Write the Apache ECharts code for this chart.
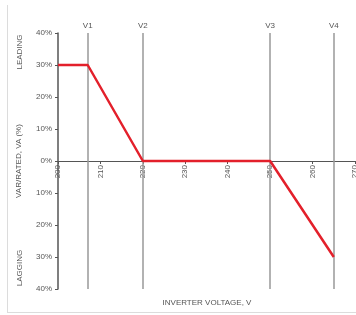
<!DOCTYPE html>
<html>
<head>
<meta charset="utf-8">
<script src="https://cdn.jsdelivr.net/npm/echarts@6/dist/echarts.min.js"></script>
<style>html,body{margin:0;padding:0;background:#fff}#c{width:356px;height:315px}</style>
</head>
<body>
<div id="c"></div>
<script>
const curveVoltage = [200, 207, 220, 250, 265];
const curveVar = [30, 30, 0, 0, -30];
const markerNames = ['V1', 'V2', 'V3', 'V4'];
const markerVoltage = [207, 220, 250, 265];
const xTicks = [200, 210, 220, 230, 240, 250, 260, 270];
const yTicks = [-40, -30, -20, -10, 0, 10, 20, 30, 40];

const font = 'Liberation Sans, Arial, sans-serif';
const txt = '#555';
const gridTop = 33, gridBottom = 26, H = 315;
const plotH = H - gridTop - gridBottom;

const chart = echarts.init(document.getElementById('c'), null, {renderer: 'canvas'});
chart.setOption({
  animation: false,
  grid: {left: 58, right: 1, top: gridTop, bottom: gridBottom, containLabel: false, outerBoundsMode: 'none'},
  xAxis: {
    type: 'value', min: xTicks[0], max: xTicks[xTicks.length - 1], interval: 10,
    position: 'bottom', offset: -plotH / 2,
    axisLine: {onZero: false, lineStyle: {color: '#555', width: 1.2}},
    axisTick: {show: true, length: 3, lineStyle: {color: '#555'}},
    axisLabel: {rotate: 90, margin: 4, fontFamily: font, fontSize: 8, color: txt, showMaxLabel: true, showMinLabel: true},
    splitLine: {show: false}
  },
  yAxis: {
    type: 'value', min: yTicks[0], max: yTicks[yTicks.length - 1], interval: 10,
    name: 'VAR/RATED, VA (%)', nameLocation: 'middle', nameGap: 35, nameRotate: 90,
    nameTextStyle: {fontFamily: font, fontSize: 8, color: txt},
    axisLine: {lineStyle: {color: '#555', width: 1.5}},
    axisTick: {show: true, length: 3, lineStyle: {color: '#555'}},
    axisLabel: {margin: 6, fontFamily: font, fontSize: 8, color: txt,
      formatter: v => Math.abs(v) + '%'},
    splitLine: {show: false}
  },
  series: [{
    type: 'line',
    data: curveVoltage.map((v, i) => [v, curveVar[i]]),
    symbol: 'none',
    lineStyle: {color: '#e3202b', width: 2.5},
    z: 5,
    markLine: {
      silent: true, symbol: ['none', 'none'],
      lineStyle: {color: '#999', width: 1.5, type: 'solid'},
      label: {position: 'end', distance: 3, fontFamily: font, fontSize: 8, color: txt},
      data: markerVoltage.map((v, i) => [
        {coord: [v, -40], name: markerNames[i], label: {formatter: markerNames[i]}},
        {coord: [v, 40]}
      ])
    }
  }],
  graphic: [
    {type: 'line', shape: {x1: 7.5, y1: 5, x2: 7.5, y2: 312.5}, style: {stroke: '#dcdcdc', lineWidth: 1}},
    {type: 'line', shape: {x1: 7, y1: 312.5, x2: 356, y2: 312.5}, style: {stroke: '#dcdcdc', lineWidth: 1}},
    {type: 'text', x: 20, y: 52, rotation: Math.PI / 2, style: {text: 'LEADING', fontFamily: font, fontSize: 8, fill: txt, textAlign: 'center', textVerticalAlign: 'middle'}},
    {type: 'text', x: 20, y: 268, rotation: Math.PI / 2, style: {text: 'LAGGING', fontFamily: font, fontSize: 8, fill: txt, textAlign: 'center', textVerticalAlign: 'middle'}},
    {type: 'text', x: 207, y: 303, style: {text: 'INVERTER VOLTAGE, V', fontFamily: font, fontSize: 8, fill: txt, textAlign: 'center', textVerticalAlign: 'middle'}}
  ]
});
</script>
</body>
</html>
